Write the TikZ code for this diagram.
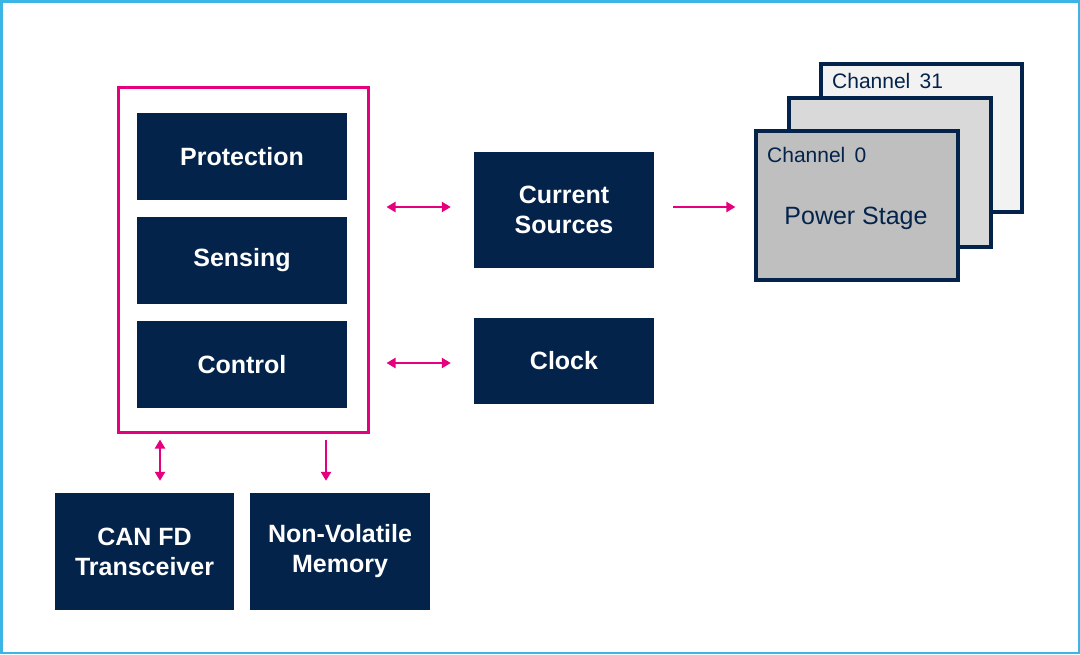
\documentclass[tikz,border=0pt]{standalone}
\usepackage{fontspec}
\setmainfont{Liberation Sans}
\usetikzlibrary{arrows.meta,calc}
\definecolor{navy}{HTML}{03234B}
\definecolor{mag}{HTML}{E6007E}
\definecolor{stblue}{HTML}{3CB4E6}
\definecolor{gA}{HTML}{BFBFBF}
\definecolor{gB}{HTML}{D9D9D9}
\definecolor{gC}{HTML}{F2F2F2}
\tikzset{
  blk/.style={fill=navy, text=white, inner sep=0pt, align=center,
    font=\fontsize{25}{30}\selectfont\bfseries},
  chan/.style={draw=navy, line width=3.2pt, inner sep=0pt},
  conn/.style={draw=mag, line width=2.6pt, {Triangle[length=9pt,width=10pt]}-{Triangle[length=9pt,width=10pt]}},
  conn1/.style={draw=mag, line width=2.6pt, -{Triangle[length=9pt,width=10pt]}},
  lbl/.style={text=navy, inner sep=0pt}
}
\begin{document}
\begin{tikzpicture}[x=1pt,y=-1pt]
\useasboundingbox (0,0) rectangle (1080,654);
\fill[white] (0,0) rectangle (1080,654);
\draw[stblue, line width=2.5pt] (1.25,1.25) rectangle (1078.75,652.75);

% channel stack
\node[chan, fill=gC, minimum width=201, minimum height=148] (ch31) at (921.5,138) {};
\node[chan, fill=gB, minimum width=202, minimum height=149] (chmid) at (890,172.5) {};
\node[chan, fill=gA, minimum width=202, minimum height=149] (ch0) at (857,205.5) {};
\node[lbl, anchor=west, font=\fontsize{21}{25}\selectfont] (t31) at (832,81) {Channel\ \,31};
\node[lbl, anchor=west, font=\fontsize{21}{25}\selectfont] (t0) at (767,155) {Channel\ \,0};
\node[lbl, font=\fontsize{25}{30}\selectfont] (ps) at (856,218) {Power Stage};

% frame and inner blocks
\node[draw=mag, line width=3pt, minimum width=250, minimum height=345, inner sep=0pt] (frame) at (243,259.5) {};
\node[blk, minimum width=210, minimum height=87] (prot) at (242,156.5) {Protection};
\node[blk, minimum width=210, minimum height=87] (sens) at (242,260.5) {Sensing};
\node[blk, minimum width=210, minimum height=87] (ctrl) at (242,364.5) {Control};

\node[blk, minimum width=180, minimum height=116] (cur) at (564,210) {Current\\Sources};
\node[blk, minimum width=180, minimum height=86] (clk) at (564,361) {Clock};
\node[blk, minimum width=179, minimum height=117] (can) at (144.5,551.5) {CAN FD\\Transceiver};
\node[blk, minimum width=180, minimum height=117] (nvm) at (340,551.5) {Non-Volatile\\Memory};

% connectors
\draw[conn, shorten <=17pt, shorten >=23pt] ([yshift=3]frame.east |- cur.west) -- ([yshift=3]cur.west);
\draw[conn, shorten <=17pt, shorten >=23pt] ([yshift=-2]frame.east |- clk.west) -- ([yshift=-2]clk.west);
\draw[conn1, shorten <=19pt, shorten >=19pt] ([yshift=3]cur.east) -- ([yshift=3]cur.east -| ch0.west);
\draw[conn, shorten <=6pt, shorten >=12pt] ([xshift=15.5]frame.south -| can.north) -- ([xshift=15.5]can.north);
\draw[conn1, shorten <=6pt, shorten >=12pt] ([xshift=-14]frame.south -| nvm.north) -- ([xshift=-14]nvm.north);
\end{tikzpicture}
\end{document}
